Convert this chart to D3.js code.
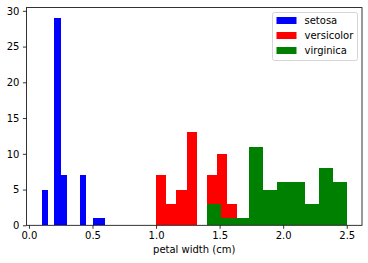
<!DOCTYPE html>
<html><head><meta charset="utf-8">
<script src="https://cdn.jsdelivr.net/npm/d3@7"></script>
<style>body{margin:0;background:#fff;} svg{display:block;font-family:"DejaVu Sans",sans-serif;}</style>
</head><body>
<svg id="c" width="368" height="263"></svg>
<script>
const seriesNames = ["setosa", "versicolor", "virginica"];
const seriesColors = ["blue", "red", "green"];
const setosaEdges = [0.1,0.15,0.2,0.25,0.3,0.35,0.4,0.45,0.5,0.55,0.6];
const setosaCounts = [5,0,29,7,0,0,7,0,1,1];
const versicolorEdges = [1.0,1.08,1.16,1.24,1.32,1.4,1.48,1.56,1.64,1.72,1.8];
const versicolorCounts = [7,3,5,13,0,7,10,3,1,1];
const virginicaEdges = [1.4,1.51,1.62,1.73,1.84,1.95,2.06,2.17,2.28,2.39,2.5];
const virginicaCounts = [3,1,1,11,5,6,6,3,8,6];
const xTicks = [0,0.5,1.0,1.5,2.0,2.5];
const yTicks = [0,5,10,15,20,25,30];
const xLabel = "petal width (cm)";

const series = [
  {edges: setosaEdges, counts: setosaCounts},
  {edges: versicolorEdges, counts: versicolorCounts},
  {edges: virginicaEdges, counts: virginicaCounts}
];

const L = 26.4, R = 362, T = 7.6, B = 225.3;
const x = d3.scaleLinear().domain([-0.02, 2.62]).range([L, R]);
const y = d3.scaleLinear().domain([0, 30.45]).range([B, T]);
const svg = d3.select("#c");

series.forEach((s, i) => {
  const bins = s.counts.map((c, k) => ({x0: s.edges[k], x1: s.edges[k+1], c}));
  svg.append("g").selectAll("rect").data(bins.filter(b => b.c > 0)).join("rect")
    .attr("x", d => x(d.x0)).attr("width", d => x(d.x1) - x(d.x0))
    .attr("y", d => y(d.c)).attr("height", d => y(0) - y(d.c))
    .attr("fill", seriesColors[i]).attr("shape-rendering", "crispEdges");
});

const xAxis = d3.axisBottom(x).tickValues(xTicks).tickFormat(d3.format(".1f")).tickSize(3.5).tickPadding(3.5);
const yAxis = d3.axisLeft(y).tickValues(yTicks).tickFormat(d3.format("d")).tickSize(3.5).tickPadding(3.5);
const gx = svg.append("g").attr("transform", `translate(0,${B})`).call(xAxis);
const gy = svg.append("g").attr("transform", `translate(${L},0)`).call(yAxis);
[gx, gy].forEach(g => {
  g.select(".domain").remove();
  g.selectAll("line").attr("stroke", "#000").attr("stroke-width", 0.8);
  g.selectAll("text").attr("font-size", 10).attr("fill", "#000").attr("font-family", "DejaVu Sans");
});
svg.append("rect").attr("x", L).attr("y", T).attr("width", R - L).attr("height", B - T)
  .attr("fill", "none").attr("stroke", "#000").attr("stroke-width", 0.8);

svg.append("text").attr("x", (L + R) / 2).attr("y", 252.5).attr("text-anchor", "middle")
  .attr("font-size", 10).attr("fill", "#000").text(xLabel);

const lg = svg.append("g");
lg.append("rect").attr("x", 272.5).attr("y", 12.5).attr("width", 85).attr("height", 48)
  .attr("rx", 2).attr("fill", "#fff").attr("fill-opacity", 0.8).attr("stroke", "#ccc").attr("stroke-width", 0.8);
seriesNames.forEach((n, i) => {
  const cy = 20.5 + i * 15;
  lg.append("rect").attr("x", 276.5).attr("y", cy - 3.5).attr("width", 20).attr("height", 7).attr("fill", seriesColors[i]);
  lg.append("text").attr("x", 304.5).attr("y", cy + 3.5).attr("font-size", 10).attr("fill", "#000").text(n);
});
</script>
</body></html>
